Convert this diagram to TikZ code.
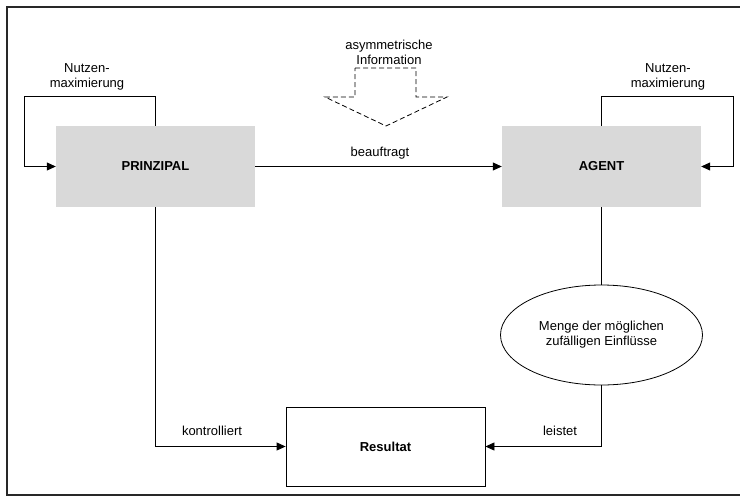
\documentclass[tikz,border=0pt]{standalone}
\usepackage{fontspec}
\setmainfont{Liberation Sans}
\definecolor{boxgray}{RGB}{217, 217, 217}
\definecolor{framegray}{RGB}{40, 40, 40}
\usetikzlibrary{shapes.geometric, arrows.meta, positioning}

\begin{document}
\begin{tikzpicture}[x=1pt, y=-1pt, font=\fontsize{13}{15}\selectfont,
  party/.style={fill=boxgray, minimum width=199pt, minimum height=81pt, inner sep=0pt, font=\fontsize{13}{15}\selectfont\bfseries},
  result/.style={draw, line width=0.8pt, fill=white, minimum width=199pt, minimum height=79pt, inner sep=0pt, font=\fontsize{13}{15}\selectfont\bfseries},
  link/.style={line width=0.8pt, -{Triangle[length=9pt, width=8pt]}},
  lbl/.style={align=center, inner sep=0pt}]
  \useasboundingbox (0,0) rectangle (740,496);

  % Frame
  \draw[framegray, line width=1.1pt] (760,7) -- (7,7) -- (7,495) -- (760,495);

  % Principal and agent
  \node[party] (prinzipal) at (155.5,166.5) {PRINZIPAL};
  \node[party] (agent) at (601.5,166.5) {AGENT};

  % Result and random influences
  \node[result] (resultat) at (385.5,446.5) {Resultat};
  \node[draw, ellipse, line width=0.8pt, minimum width=202pt, minimum height=100pt, inner sep=0pt, align=center] (einfluss) at (601.5,335) {Menge der möglichen\\zufälligen Einflüsse};

  % Utility loops
  \draw[link] (prinzipal.north) |- (24,96) |- (prinzipal.west);
  \node[lbl] (nutzenP) at (87,77) {Nutzen-\\maximierung};
  \draw[link] (agent.north) |- (733,96) |- (agent.east);
  \node[lbl] (nutzenA) at (668,77) {Nutzen-\\maximierung};

  % Delegation
  \draw[link] (prinzipal.east) -- (agent.west);
  \node[lbl] (auftrag) at (380,153) {beauftragt};

  % Asymmetric information
  \node[lbl] (asym) at (389,52) {asymmetrische\\Information};
  \draw[line width=0.8pt, dash pattern=on 5pt off 3pt] (355,68) -- (416,68) -- (416,97) -- (447,97) -- (386,126) -- (325,97) -- (355,97) -- cycle;

  % Control and performance
  \draw[link] (prinzipal.south) |- (resultat.west);
  \node[lbl] (kontrolle) at (212,431) {kontrolliert};
  \draw[line width=0.8pt] (agent.south) -- (einfluss.north);
  \draw[link] (einfluss.south) |- (resultat.east);
  \node[lbl] (leistung) at (560,431) {leistet};
\end{tikzpicture}
\end{document}
